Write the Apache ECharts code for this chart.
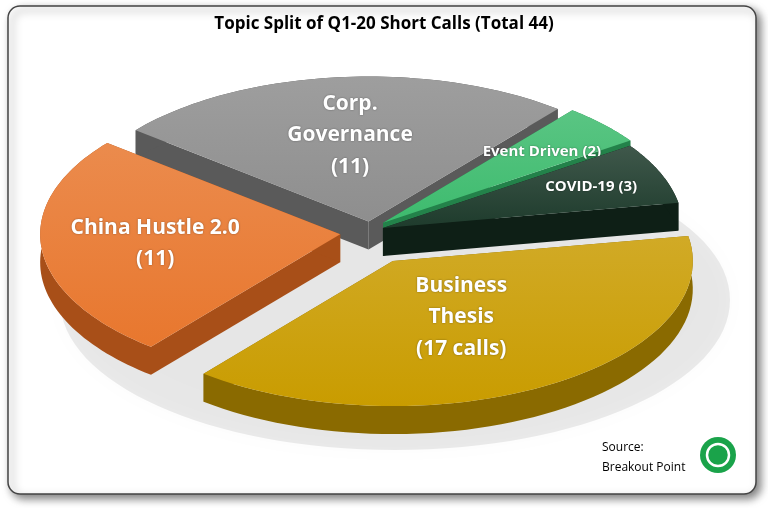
<!DOCTYPE html>
<html><head><meta charset="utf-8">
<script src="https://cdn.jsdelivr.net/npm/echarts@6/dist/echarts.min.js"></script>
<style>html,body{margin:0;padding:0;background:#fff}#c{width:768px;height:508px}</style>
</head><body><div id="c"></div>
<script>
const categories = ['Business\nThesis\n(17 calls)', 'China Hustle 2.0\n(11)', 'Corp.\nGovernance\n(11)', 'Event Driven (2)', 'COVID-19 (3)'];
const values = [17, 11, 11, 2, 3];
const colors = ['#c99c00', '#e8772e', '#8e8e8e', '#3dbb6e', '#1e3b2c'];
const sides = ['#8a6a00', '#a84f18', '#5a5a5a', '#23824a', '#0e1f16'];
const explode = [45, 30, 14, 18, 14];
const labelR = [0.45, 0.62, 0.6, 0.72, 0.75];
const fontSizes = [21, 21, 21, 15, 15];
const total = values.reduce((a, b) => a + b, 0);
const startDeg = -10;
const cx = 370, cy = 232, rx = 300, ry = 145, depth = 28;

const angles = [];
let acc = startDeg;
values.forEach(v => { const s = acc; acc += v / total * 360; angles.push([s * Math.PI / 180, acc * Math.PI / 180]); });

function geom(i) {
  const [a0, a1] = angles[i];
  const m = (a0 + a1) / 2;
  const dx = Math.cos(m) * explode[i], dy = Math.sin(m) * explode[i] * 0.75;
  const P = (a, r, h) => [cx + dx + rx * r * Math.cos(a), cy + dy + ry * r * Math.sin(a) + (h || 0)];
  return { a0, a1, m, P };
}

function renderItem(params, api) {
  const i = params.dataIndex;
  const { a0, a1, m, P } = geom(i);
  const n = 60, top = [P(0, 0)], children = [];
  const arc = [];
  for (let k = 0; k <= n; k++) arc.push(a0 + (a1 - a0) * k / n);
  arc.forEach(a => top.push(P(a, 1)));
  [a0, a1].forEach(a => {
    children.push({ type: 'polygon', shape: { points: [P(0, 0), P(a, 1), P(a, 1, depth), P(0, 0, depth)] }, style: { fill: sides[i] } });
  });
  const wall = arc.map(a => P(a, 1)).concat(arc.slice().reverse().map(a => P(a, 1, depth)));
  children.push({ type: 'polygon', shape: { points: wall }, style: { fill: sides[i] } });
  children.push({ type: 'polygon', shape: { points: top }, style: {
    fill: { type: 'linear', x: 0, y: 0, x2: 0, y2: 1, colorStops: [{ offset: 0, color: echarts.color.lift(colors[i], 0.15) }, { offset: 1, color: colors[i] }] } } });
  const lp = P(m, labelR[i]);
  children.push({ type: 'text', x: lp[0], y: lp[1], style: { text: categories[i], fill: '#fff', font: 'bold ' + fontSizes[i] + 'px "Open Sans", sans-serif', align: 'center', verticalAlign: 'middle', lineHeight: fontSizes[i] * 1.5, textShadowColor: 'rgba(0,0,0,0.4)', textShadowBlur: 2 } });
  return { type: 'group', children };
}

const order = values.map((v, i) => i).sort((a, b) => Math.sin(geom(a).m) - Math.sin(geom(b).m));
const chart = echarts.init(document.getElementById('c'));
chart.setOption({
  animation: false,
  graphic: [
    { type: 'rect', shape: { x: 8, y: 6, width: 748, height: 488, r: 12 }, style: { fill: '#fff', stroke: '#444', lineWidth: 1.5, shadowBlur: 8, shadowColor: 'rgba(0,0,0,0.5)', shadowOffsetX: 4, shadowOffsetY: 4 }, z: -10 },
    { type: 'ellipse', shape: { cx: 395, cy: 300, rx: 335, ry: 150 }, style: { fill: 'rgba(0,0,0,0.08)', shadowBlur: 25, shadowColor: 'rgba(0,0,0,0.25)' }, z: -5 },
    { type: 'text', left: 'center', top: 16, style: { text: 'Topic Split of Q1-20 Short Calls (Total 44)', font: 'bold 17px "Open Sans", sans-serif', fill: '#000' } },
    { type: 'text', left: 602, top: 438, style: { text: 'Source:\nBreakout Point', font: '12px "Open Sans", sans-serif', fill: '#000', lineHeight: 20 } },
    { type: 'circle', shape: { cx: 718, cy: 455, r: 18 }, style: { fill: '#1aa34a' } },
    { type: 'circle', shape: { cx: 718, cy: 455, r: 11 }, style: { fill: 'none', stroke: '#fff', lineWidth: 2.5 } }
  ],
  series: [{ type: 'custom', coordinateSystem: 'none',
    renderItem: (p, api) => renderItem({ dataIndex: order[p.dataIndex] }, api),
    data: order.map(i => ({ value: values[i], name: categories[i] })) }]
});
</script></body></html>
